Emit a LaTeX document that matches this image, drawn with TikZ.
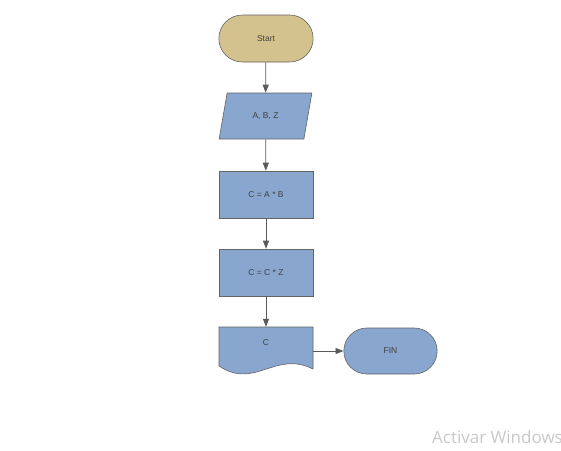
\documentclass[tikz,border=0pt]{standalone}
\usepackage{fontspec}
\setmainfont{Liberation Sans}
\newfontfamily\winfont{Open Sans}
\usetikzlibrary{shapes.geometric, shapes.misc, arrows.meta, positioning}
\definecolor{tanfill}{RGB}{212,194,142}
\definecolor{bluefill}{RGB}{137,166,207}
\definecolor{edgegray}{RGB}{100,100,100}
\definecolor{arrowgray}{RGB}{90,90,90}
\definecolor{wingray}{RGB}{200,200,200}
\tikzset{
    terminal/.style={rounded rectangle, draw=edgegray, line width=0.6pt, minimum width=101pt, minimum height=47pt, font=\fontsize{8.5}{10}\selectfont, text=black!75},
    process/.style={rectangle, draw=edgegray, line width=0.6pt, fill=bluefill, minimum width=94pt, minimum height=47pt, font=\fontsize{8.5}{10}\selectfont, text=black!75},
    datain/.style={trapezium, trapezium left angle=76, trapezium right angle=104, trapezium stretches=true, draw=edgegray, line width=0.6pt, fill=bluefill, minimum width=93pt, minimum height=46pt, font=\fontsize{8.5}{10}\selectfont, text=black!75},
    flow/.style={draw=arrowgray, line width=0.8pt, -{Triangle[length=8pt,width=6pt]}}
}
\begin{document}
\begin{tikzpicture}[x=1pt, y=-1pt]
        \useasboundingbox (0, 0) rectangle (561, 450);
        % Start
        \node [terminal, fill=tanfill] (start) at (266, 38.5) {Start};
        % Input
        \node [datain] (input) at (265.5, 116) {A, B, Z};
        % Products
        \node [process] (prodab) at (266, 194.5) {C = A * B};
        \node [process] (prodcz) at (266, 272.5) {C = C * Z};
        % Output document
        \draw [draw=edgegray, line width=0.6pt, fill=bluefill]
            (219, 327) -- (313, 327) -- (313, 369)
            .. controls (275, 350) and (255, 390) .. (219, 366) -- cycle;
        \node [minimum width=94pt, minimum height=42pt, inner sep=0pt] (output) at (266, 348) {};
        \node [font=\fontsize{8.5}{10}\selectfont, text=black!75] (outtext) at (266, 343) {C};
        % End
        \node [terminal, fill=bluefill, minimum width=100pt, minimum height=46pt] (fin) at (390.5, 351) {FIN};
        % Arrows
        \draw [flow] (start) -- (input);
        \draw [flow] (input) -- (prodab);
        \draw [flow] (prodab) -- (prodcz);
        \draw [flow] (prodcz) -- (output);
        \draw [flow] (output.east |- fin) -- (fin);
        % Watermark
        \node [anchor=base west, inner sep=0pt, text=wingray, font=\winfont\fontsize{17}{20}\selectfont] (watermark) at (432, 443) {Activar Windows};
    \end{tikzpicture}
\end{document}
